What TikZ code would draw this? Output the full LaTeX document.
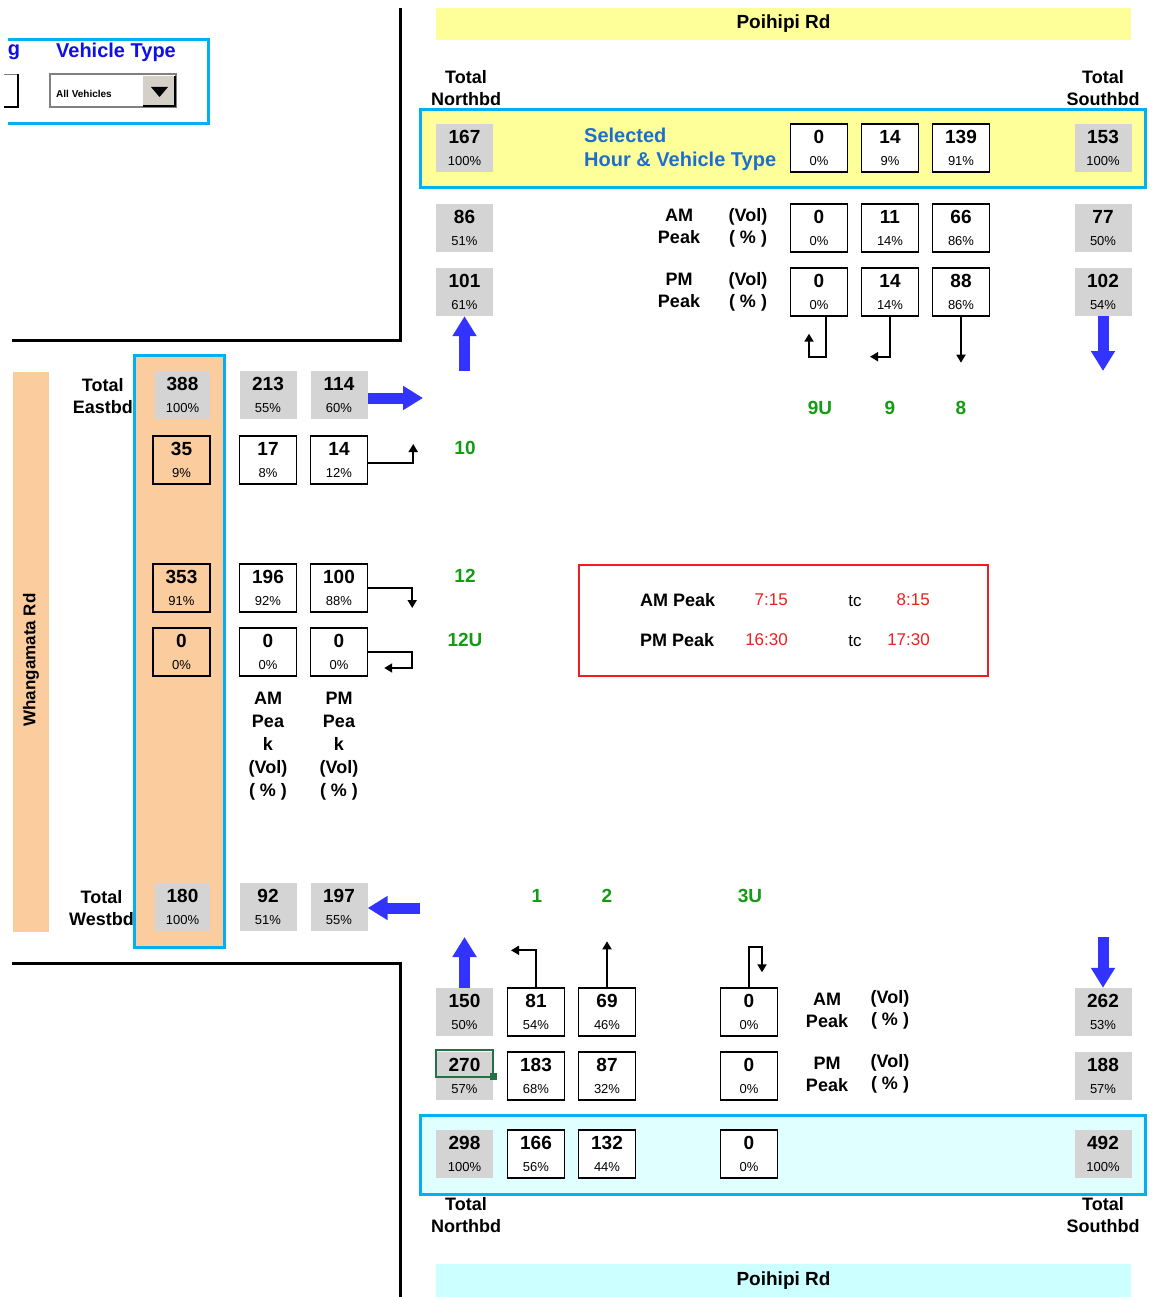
\documentclass[tikz,border=0pt]{standalone}
\usepackage{fontspec}
\setmainfont{Liberation Sans}
\usetikzlibrary{arrows.meta,calc}
\definecolor{ccyan}{RGB}{0,176,240}
\definecolor{cyel}{RGB}{255,255,153}
\definecolor{clcyan}{RGB}{224,255,255}
\definecolor{cbar}{RGB}{204,255,255}
\definecolor{cgrey}{RGB}{212,212,212}
\definecolor{cpeach}{RGB}{250,204,158}
\definecolor{cblue}{RGB}{51,51,255}
\definecolor{cvblue}{RGB}{15,15,230}
\definecolor{cselblue}{RGB}{30,110,205}
\definecolor{cgreen}{RGB}{20,155,20}
\definecolor{cred}{RGB}{240,30,30}
\definecolor{cxl}{RGB}{33,115,70}
\definecolor{cbtn}{RGB}{212,208,200}
\newcommand\vp[2]{{\fontsize{19}{22}\selectfont\bfseries #1}\\#2}
\tikzset{
 num/.style={minimum width=57pt, minimum height=48pt, inner sep=0pt, align=center, font=\fontsize{13}{22}\selectfont},
 gbox/.style={num, fill=cgrey},
 wbox/.style={num, draw=black, line width=1.4pt, fill=white},
 obox/.style={num, draw=black, line width=1.4pt},
 lbl/.style={font=\fontsize{18}{22}\selectfont\bfseries, inner sep=0pt, align=center},
 vlbl/.style={font=\fontsize{18}{23}\selectfont\bfseries, inner sep=0pt, align=center},
 grn/.style={font=\fontsize{19}{22}\selectfont\bfseries, text=cgreen, inner sep=0pt},
 redt/.style={font=\fontsize{17}{20}\selectfont, text=cred, inner sep=0pt},
 tct/.style={font=\fontsize{17}{20}\selectfont, inner sep=0pt},
 turn/.style={line width=1.8pt, -{Triangle[length=8pt,width=9pt]}},
 barr/.style={line width=11pt, draw=cblue, -{Triangle[length=20pt,width=23pt]}},
}
\begin{document}
\begin{tikzpicture}[x=1pt,y=-1pt]
\useasboundingbox (0,0) rectangle (1157,1297);
\fill[white] (0,0) rectangle (1157,1297);

% frame lines
\draw[line width=3pt] (12,340) -- (400,340) -- (400,8);
\draw[line width=3pt] (12,963) -- (400,963) -- (400,1297);

% top-left selector
\draw[ccyan,line width=3pt] (8,40) -- (208,40) -- (208,124) -- (8,124);
\node[font=\fontsize{20}{22}\selectfont\bfseries, text=cvblue, inner sep=0pt] (gtxt) at (14,52) {g};
\node[font=\fontsize{20}{22}\selectfont\bfseries, text=cvblue, inner sep=0pt] (vtype) at (116,52) {Vehicle Type};
\fill[white] (4,74) rectangle (18,107);
\draw[gray,line width=1.5pt] (4,74.5) -- (18,74.5);
\draw[black,line width=1.5pt] (18,74) -- (18,107) -- (4,107);
\draw[gray,line width=1.5pt,fill=white] (50,74) rectangle (176,107);
\draw[white,line width=1pt] (51.5,105.5) -- (174.5,105.5) -- (174.5,75.5);
\fill[cbtn] (143,76) rectangle (175,106);
\draw[black,line width=1.2pt] (143,106) -- (175,106) -- (175,76);
\fill[black] (151,87) -- (168,87) -- (159.5,97) -- cycle;
\node[font=\fontsize{10}{12}\selectfont\bfseries, anchor=west, inner sep=0pt] (allv) at (56,94) {All Vehicles};

% road bars and panels
\node[fill=cyel, minimum width=695pt, minimum height=32pt, inner sep=0pt, font=\fontsize{19}{22}\selectfont\bfseries] (poiN) at (783.5,24) {Poihipi Rd};
\node[fill=cbar, minimum width=695pt, minimum height=33pt, inner sep=0pt, font=\fontsize{19}{22}\selectfont\bfseries] (poiS) at (783.5,1280.5) {Poihipi Rd};
\draw[ccyan, line width=3pt, fill=cyel] (420,110) rectangle (1145,188);
\draw[ccyan, line width=3pt, fill=clcyan] (420,1115) rectangle (1145,1194);
\fill[cpeach] (13,372) rectangle (49,932);
\draw[ccyan, line width=3pt, fill=cpeach] (134,355) rectangle (224,947);
\draw[cred, line width=1.5pt] (579,565) rectangle (988,676);
\node[font=\fontsize{17}{20}\selectfont\bfseries, rotate=90, inner sep=0pt] (wrd) at (31,660) {Whangamata Rd};

% top approach
\node[lbl] (tnN) at (466,88) {Total\\Northbd};
\node[lbl] (tnS) at (1103,88) {Total\\Southbd};
\node[gbox] (s167) at (464.5,148) {\vp{167}{100\%}};
\node[inner sep=0pt, anchor=west, align=left, text=cselblue, font=\fontsize{20}{24}\selectfont\bfseries] (sel) at (584,149) {Selected\\Hour \& Vehicle Type};
\node[wbox] (s0) at (819,148) {\vp{0}{0\%}};
\node[wbox] (s14) at (890,148) {\vp{14}{9\%}};
\node[wbox] (s139) at (961,148) {\vp{139}{91\%}};
\node[gbox] (s153) at (1103,148) {\vp{153}{100\%}};

\node[gbox] (a86) at (464.5,228) {\vp{86}{51\%}};
\node[lbl] (amT) at (679,226) {AM\\Peak};
\node[lbl] (amU) at (748,228) {(Vol)\\( \% )};
\node[wbox] (a0t) at (819,228) {\vp{0}{0\%}};
\node[wbox] (a11) at (890,228) {\vp{11}{14\%}};
\node[wbox] (a66) at (961,228) {\vp{66}{86\%}};
\node[gbox] (a77) at (1103,228) {\vp{77}{50\%}};

\node[gbox] (p101) at (464.5,292) {\vp{101}{61\%}};
\node[lbl] (pmT) at (679,290) {PM\\Peak};
\node[lbl] (pmU) at (748,292) {(Vol)\\( \% )};
\node[wbox] (p0t) at (819,292) {\vp{0}{0\%}};
\node[wbox] (p14) at (890,292) {\vp{14}{14\%}};
\node[wbox] (p88) at (961,292) {\vp{88}{86\%}};
\node[gbox] (p102) at (1103,292) {\vp{102}{54\%}};

\node[grn] (g9u) at (820,408) {9U};
\node[grn] (g9) at (890,408) {9};
\node[grn] (g8) at (961,408) {8};

% left approach
\node[lbl, anchor=east] (tE) at (133,396) {Total\\Eastbd};
\node[gbox, minimum width=55pt] (e388) at (182.5,395) {\vp{388}{100\%}};
\node[gbox] (e213) at (268,395) {\vp{213}{55\%}};
\node[gbox] (e114) at (339,395) {\vp{114}{60\%}};
\node[obox] (o35) at (181.5,460) {\vp{35}{9\%}};
\node[wbox] (e17) at (268,460) {\vp{17}{8\%}};
\node[wbox] (e14) at (339,460) {\vp{14}{12\%}};
\node[grn] (g10) at (465,448) {10};
\node[obox] (o353) at (181.5,588) {\vp{353}{91\%}};
\node[wbox] (e196) at (268,588) {\vp{196}{92\%}};
\node[wbox] (e100) at (339,588) {\vp{100}{88\%}};
\node[grn] (g12) at (465,576) {12};
\node[obox] (o0) at (181.5,652) {\vp{0}{0\%}};
\node[wbox] (e0a) at (268,652) {\vp{0}{0\%}};
\node[wbox] (e0b) at (339,652) {\vp{0}{0\%}};
\node[grn] (g12u) at (465,640) {12U};
\node[vlbl] (amL) at (268,746) {AM\\Pea\\k\\(Vol)\\( \% )};
\node[vlbl] (pmL) at (339,746) {PM\\Pea\\k\\(Vol)\\( \% )};
\node[lbl, anchor=east] (tW) at (134,908) {Total\\Westbd};
\node[gbox, minimum width=55pt] (w180) at (182.5,907) {\vp{180}{100\%}};
\node[gbox] (w92) at (268,907) {\vp{92}{51\%}};
\node[gbox] (w197) at (339,907) {\vp{197}{55\%}};

% peak hours box
\node[font=\fontsize{18}{20}\selectfont\bfseries, inner sep=0pt, anchor=west] (amP) at (640,600) {AM Peak};
\node[redt, anchor=east] (am1) at (788,600) {7:15};
\node[tct] (amtc) at (855,601) {tc};
\node[redt, anchor=east] (am2) at (930,600) {8:15};
\node[font=\fontsize{18}{20}\selectfont\bfseries, inner sep=0pt, anchor=west] (pmP) at (640,640) {PM Peak};
\node[redt, anchor=east] (pm1) at (788,640) {16:30};
\node[tct] (pmtc) at (855,641) {tc};
\node[redt, anchor=east] (pm2) at (930,640) {17:30};

% bottom approach
\node[grn] (g1) at (537,896) {1};
\node[grn] (g2) at (607,896) {2};
\node[grn] (g3u) at (750,896) {3U};
\node[gbox] (b150) at (464.5,1012) {\vp{150}{50\%}};
\node[wbox] (b81) at (536,1012) {\vp{81}{54\%}};
\node[wbox] (b69) at (607,1012) {\vp{69}{46\%}};
\node[wbox] (b0a) at (749,1012) {\vp{0}{0\%}};
\node[lbl] (bamT) at (827,1010) {AM\\Peak};
\node[lbl] (bamU) at (890,1010) {(Vol)\\( \% )};
\node[gbox] (b262) at (1103,1012) {\vp{262}{53\%}};
\node[gbox] (b270) at (464.5,1076) {\vp{270}{57\%}};
\node[wbox] (b183) at (536,1076) {\vp{183}{68\%}};
\node[wbox] (b87) at (607,1076) {\vp{87}{32\%}};
\node[wbox] (b0b) at (749,1076) {\vp{0}{0\%}};
\node[lbl] (bpmT) at (827,1074) {PM\\Peak};
\node[lbl] (bpmU) at (890,1074) {(Vol)\\( \% )};
\node[gbox] (b188) at (1103,1076) {\vp{188}{57\%}};
\node[gbox] (t298) at (464.5,1154) {\vp{298}{100\%}};
\node[wbox] (t166) at (536,1154) {\vp{166}{56\%}};
\node[wbox] (t132) at (607,1154) {\vp{132}{44\%}};
\node[wbox] (t0) at (749,1154) {\vp{0}{0\%}};
\node[gbox] (t492) at (1103,1154) {\vp{492}{100\%}};
\node[lbl] (bnN) at (466,1215) {Total\\Northbd};
\node[lbl] (bnS) at (1103,1215) {Total\\Southbd};

% excel selection
\draw[cxl, line width=2pt] (436,1050) rectangle (493,1077);
\fill[cxl] (490,1073) rectangle (497,1080);

% blue arrows
\coordinate (upN) at (464.5,371);
\coordinate (dnS) at (1103,371);
\coordinate (rtE) at (423,398);
\coordinate (ltW) at (420,908);
\coordinate (upB) at (464.5,937);
\coordinate (dnB) at (1103,937);
\draw[barr] (upN) -- (p101.south);
\draw[barr] (p102.south) -- (dnS);
\draw[barr] ($(e114.east)+(0,3)$) -- (rtE);
\draw[barr] (ltW) -- ($(w197.east)+(0,1)$);
\draw[barr] (b150.north) -- (upB);
\draw[barr] (dnB) -- (b262.north);

% turning arrows
\draw[turn] ($(p0t.south)+(7,0)$) -- ++(0,40) -- ++(-17,0) -- ++(0,-23);
\draw[turn] (p14.south) -- ++(0,40) -- ++(-20,0);
\draw[turn] (p88.south) -- ++(0,46);
\draw[turn] ($(e14.east)+(0,3)$) -- ++(45,0) -- ++(0,-19);
\draw[turn] (e100.east) -- ++(44,0) -- ++(0,20);
\draw[turn] (e0b.east) -- ++(44,0) -- ++(0,16) -- ++(-28,0);
\draw[turn] (b81.north) -- ++(0,-37) -- ++(-25,0);
\draw[turn] (b69.north) -- ++(0,-46);
\draw[turn] (b0a.north) -- ++(0,-40) -- ++(13,0) -- ++(0,25);
\end{tikzpicture}
\end{document}
